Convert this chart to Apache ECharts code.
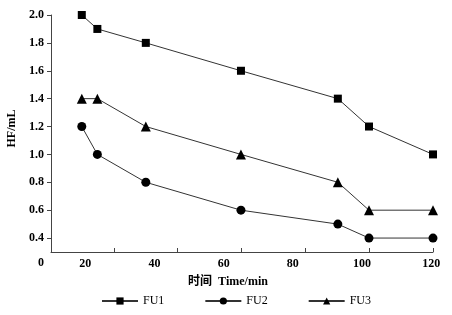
<!DOCTYPE html>
<html>
<head>
<meta charset="utf-8">
<title>HF</title>
<script src="https://cdn.jsdelivr.net/npm/echarts@6/dist/echarts.min.js"></script>
<style>
body{
margin:0;
background:#fff;
}
#chart{
width:452px;
height:315px;
}
</style>
</head>
<body>
<div id="chart"></div>
<script>

// time (min)
const time=[19,23.5,37.5,65,93,102,120.5]

const fu1=[2.0,1.9,1.8,1.6,1.4,1.2,1.0]
const fu2=[1.2,1.0,0.8,0.6,0.5,0.4,0.4]
const fu3=[1.4,1.4,1.2,1.0,0.8,0.6,0.6]

const xLabelValues=[20,40,60,80,100,120]
const xTickValues=[28.3,46.7,65.2,83.6,102.1,120.5]
const yLabelValues=[0.4,0.6,0.8,1.0,1.2,1.4,1.6,1.8,2.0]
const originLabel="0"

const serif="'Liberation Serif','Noto Sans CJK SC',serif"

function pairs(ys){
return ys.map((y,i)=>[time[i],y])
}

function line(name,ys,symbol,size){
return {
name:name,
type:"line",
data:pairs(ys),
symbol:symbol,
symbolSize:size,
itemStyle:{color:"#000"},
lineStyle:{color:"#333",width:1},
emphasis:{disabled:true}
}
}

const chart=echarts.init(document.getElementById("chart"))

chart.setOption({
animation:false,
grid:{left:51,right:19,top:15,bottom:63,containLabel:false,outerBoundsMode:"none"},
legend:{
left:96,
top:290,
itemWidth:36,
itemHeight:9,
itemGap:40,
textStyle:{fontFamily:serif,fontSize:12,color:"#000"},
data:["FU1","FU2","FU3"]
},
xAxis:{
type:"value",
min:10.1,
max:120.5,
name:"时间  Time/min",
nameLocation:"middle",
nameGap:24,
nameTextStyle:{fontFamily:serif,fontSize:12,fontWeight:"bold",color:"#000",padding:[0,28,0,0]},
axisLine:{lineStyle:{color:"#444",width:1}},
axisTick:{inside:true,length:4,customValues:xTickValues,lineStyle:{color:"#444"}},
axisLabel:{customValues:xLabelValues,margin:6,fontFamily:serif,fontSize:12,fontWeight:"bold",color:"#000"},
splitLine:{show:false}
},
yAxis:{
type:"value",
min:0.3,
max:2.0,
name:"HF/mL",
nameLocation:"middle",
nameGap:33,
nameRotate:90,
nameTextStyle:{fontFamily:serif,fontSize:12,fontWeight:"bold",color:"#000",padding:[0,0,0,10]},
axisLine:{show:true,lineStyle:{color:"#444",width:1}},
axisTick:{show:true,length:4,customValues:yLabelValues,lineStyle:{color:"#444"}},
axisLabel:{customValues:yLabelValues,margin:7,fontFamily:serif,fontSize:12,fontWeight:"bold",color:"#000",
formatter:v=>v.toFixed(1)},
splitLine:{show:false}
},
graphic:[{
type:"text",
left:38,
top:257,
style:{text:originLabel,font:"bold 12px 'Liberation Serif'",fill:"#000"}
}],
series:[
line("FU1",fu1,"rect",8),
line("FU2",fu2,"circle",9),
line("FU3",fu3,"triangle",10)
]
})

</script>
</body>
</html>
